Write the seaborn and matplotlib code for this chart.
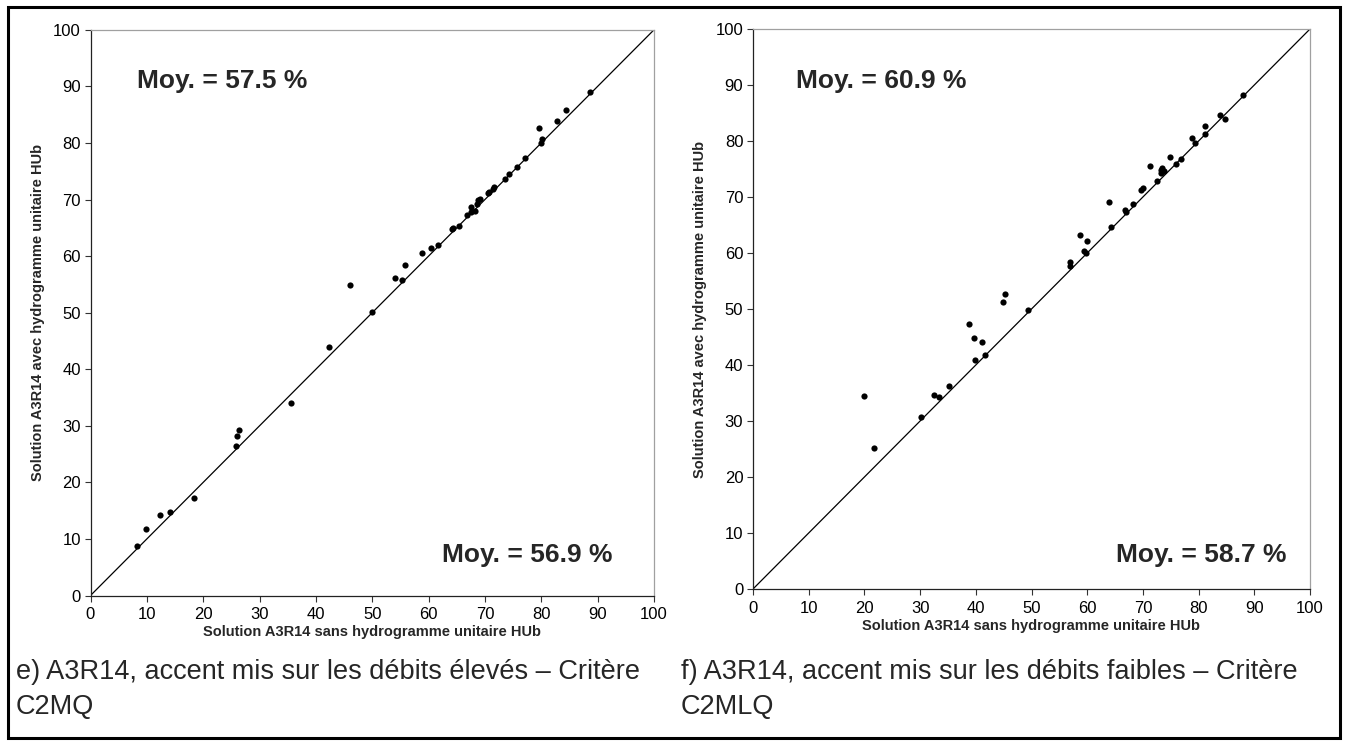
import matplotlib
matplotlib.use("Agg")
import matplotlib.pyplot as plt
import matplotlib.patches as mpatches
import seaborn as sns
import pandas as pd

# ---- data ----
x_e = [8.3, 9.9, 12.4, 14.05, 18.4, 25.8, 26.05, 26.3, 35.5, 42.4, 46.1, 49.9, 54.0, 55.2,
       55.9, 58.8, 60.4, 61.6, 64.2, 64.4, 65.4, 66.8, 67.6, 68.3, 67.6, 68.6, 68.8, 69.1,
       70.5, 70.8, 71.5, 71.6, 73.6, 74.2, 75.6, 77.1, 79.9, 80.1, 79.6, 82.8, 84.4, 88.6]
y_e = [8.7, 11.7, 14.2, 14.7, 17.2, 26.4, 28.2, 29.2, 34.0, 44.0, 54.8, 50.2, 56.2, 55.7,
       58.5, 60.5, 61.5, 62.0, 64.7, 64.9, 65.4, 67.3, 67.8, 68.0, 68.7, 69.2, 69.9, 70.1,
       71.1, 71.3, 71.8, 72.2, 73.7, 74.5, 75.8, 77.4, 80.0, 80.7, 82.7, 83.9, 85.9, 89.0]

x_f = [20.0, 21.7, 30.2, 32.5, 33.4, 35.1, 38.7, 39.7, 39.9, 41.1, 41.7, 44.9, 45.2, 49.4,
       56.9, 57.0, 58.7, 59.4, 59.7, 60.0, 63.9, 64.2, 66.7, 67.0, 68.3, 69.7, 70.1, 71.3,
       72.5, 73.2, 73.25, 73.5, 73.7, 74.9, 75.9, 76.8, 78.8, 79.4, 81.2, 81.2, 83.9, 84.7, 88.0]
y_f = [34.5, 25.2, 30.8, 34.7, 34.2, 36.3, 47.4, 44.8, 40.9, 44.1, 41.8, 51.25, 52.7, 49.9,
       58.45, 57.7, 63.3, 60.3, 60.0, 62.1, 69.05, 64.7, 67.6, 67.4, 68.75, 71.3, 71.55, 75.5,
       72.9, 74.9, 74.2, 75.2, 74.6, 77.1, 75.95, 76.85, 80.6, 79.7, 82.6, 81.25, 84.7, 84.0, 88.2]

axis_limits = [0, 100]
tick_values = list(range(0, 101, 10))
xlabel = "Solution A3R14 sans hydrogramme unitaire HUb"
ylabel = "Solution A3R14 avec hydrogramme unitaire HUb"
means_e = ["Moy. = 57.5 %", "Moy. = 56.9 %"]
means_f = ["Moy. = 60.9 %", "Moy. = 58.7 %"]
caption_e = ["e) A3R14, accent mis sur les débits élevés – Critère", "C2MQ"]
caption_f = ["f) A3R14, accent mis sur les débits faibles – Critère", "C2MLQ"]

# ---- style ----
sns.set_theme(style="ticks")
plt.rcParams["font.family"] = ["Liberation Sans", "DejaVu Sans"]

W, H = 1346, 745
fig = plt.figure(figsize=(W / 100, H / 100), dpi=100)
fig.patch.set_facecolor("white")


def px_rect(l, t, r, b):
    return [l / W, 1 - b / H, (r - l) / W, (b - t) / H]


ax_e = fig.add_axes(px_rect(90.5, 29.8, 654, 595.5))
ax_f = fig.add_axes(px_rect(753, 29, 1310, 589))

df_e = pd.DataFrame({"x": x_e, "y": y_e})
df_f = pd.DataFrame({"x": x_f, "y": y_f})

for ax, df in ((ax_e, df_e), (ax_f, df_f)):
    ax.plot(axis_limits, axis_limits, color="black", lw=0.9, zorder=1)
    sns.scatterplot(data=df, x="x", y="y", ax=ax, color="black", s=20,
                    edgecolor="black", linewidth=0, zorder=3)
    ax.set_xlim(axis_limits)
    ax.set_ylim(axis_limits)
    ax.set_xticks(tick_values)
    ax.set_yticks(tick_values)
    ax.set_xlabel("")
    ax.set_ylabel("")
    ax.set_facecolor("white")
    for side in ("top", "right"):
        ax.spines[side].set_visible(True)
        ax.spines[side].set_color("#a0a0a0")
        ax.spines[side].set_linewidth(0.9)
    for side in ("left", "bottom"):
        ax.spines[side].set_color("#222222")
        ax.spines[side].set_linewidth(0.9)
    ax.tick_params(axis="both", direction="out", length=4.5, width=0.8,
                   color="#333333", labelsize=12, labelcolor="black", pad=2.5)
    ax.tick_params(axis="x", pad=4)
    ax.grid(False)

# axis titles
ax_e.set_xlabel(xlabel, fontsize=10.5, fontweight="bold", labelpad=2)
ax_f.set_xlabel(xlabel, fontsize=10.5, fontweight="bold", labelpad=2)
ax_e.set_ylabel(ylabel, fontsize=10.5, fontweight="bold", labelpad=6)
ax_f.set_ylabel(ylabel, fontsize=10.5, fontweight="bold", labelpad=6)

# mean annotations
def ftext(xp, yp, s, **kw):
    fig.text(xp / W, 1 - yp / H, s, **kw)

ftext(137, 81, means_e[0], fontsize=19, fontweight="bold", ha="left", va="center")
ftext(612, 555, means_e[1], fontsize=19, fontweight="bold", ha="right", va="center")
ftext(796, 81, means_f[0], fontsize=19, fontweight="bold", ha="left", va="center")
ftext(1287, 555, means_f[1], fontsize=19, fontweight="bold", ha="right", va="center")

# captions
ftext(16, 672, caption_e[0], fontsize=19.5, ha="left", va="center")
ftext(16, 707, caption_e[1], fontsize=19.5, ha="left", va="center")
ftext(681, 672, caption_f[0], fontsize=19.5, ha="left", va="center")
ftext(681, 707, caption_f[1], fontsize=19.5, ha="left", va="center")

# outer frame
fig.patches.append(mpatches.Rectangle((8 / W, 1 - 738 / H), (1340 - 8) / W, (738 - 7) / H,
                                      transform=fig.transFigure, fill=False,
                                      edgecolor="black", linewidth=2.2))

fig.savefig("out.png", dpi=100, facecolor="white")
